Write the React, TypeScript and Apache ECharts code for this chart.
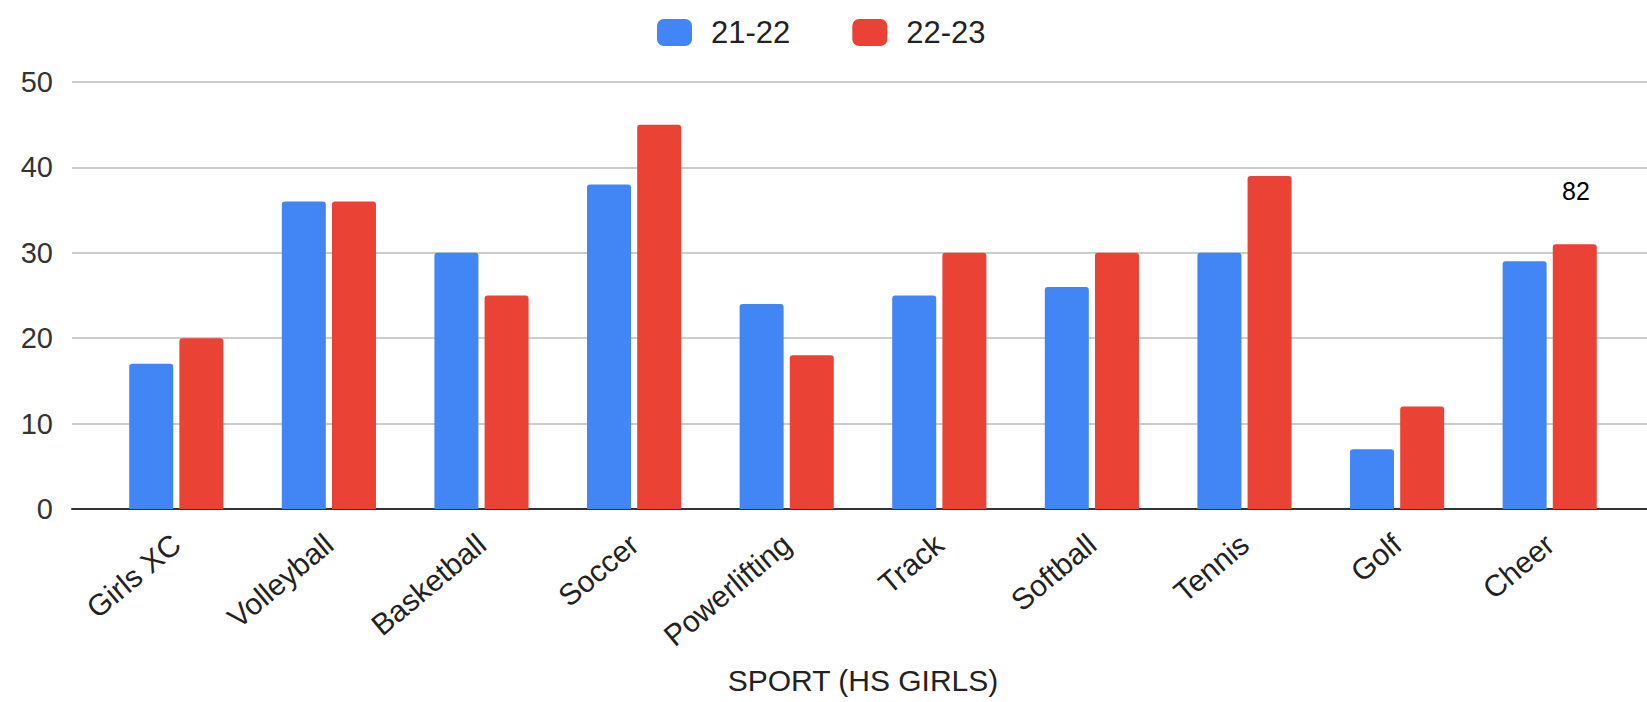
import React, { useEffect, useRef } from "react";
import * as echarts from "echarts";

const categories = ["Girls XC", "Volleyball", "Basketball", "Soccer", "Powerlifting", "Track", "Softball", "Tennis", "Golf", "Cheer"];
const series2122 = [17, 36, 30, 38, 24, 25, 26, 30, 7, 29];
const series2223 = [20, 36, 25, 45, 18, 30, 30, 39, 12, 31];
const seriesNames = ["21-22", "22-23"];
const axisTitle = "SPORT (HS GIRLS)";
const strayNote = "82";

const FONT = "Arial, 'Liberation Sans', sans-serif";

export default function App() {
  const ref = useRef<HTMLDivElement>(null);
  useEffect(() => {
    if (!ref.current) return;
    const chart = echarts.init(ref.current, undefined, { renderer: "svg" });
    chart.setOption({
      animation: false,
      backgroundColor: "#ffffff",
      textStyle: { fontFamily: FONT },
      legend: {
        data: seriesNames,
        left: 652,
        top: 12,
        itemWidth: 35,
        itemHeight: 27,
        itemGap: 62,
        icon: "roundRect",
        textStyle: { fontSize: 31, color: "#222", fontFamily: FONT, padding: [0, 0, 0, 14] },
      },
      grid: [
        { left: 72, right: 0, top: 82, bottom: 193, outerBoundsMode: "none", containLabel: false },
        { left: 100, right: 21, top: 82, bottom: 193, outerBoundsMode: "none", containLabel: false },
      ],
      xAxis: [
        {
          type: "value",
          gridIndex: 0,
          min: 0,
          max: 1,
          axisLine: { show: true, onZero: true, lineStyle: { color: "#333", width: 2 } },
          axisTick: { show: false },
          axisLabel: { show: false },
          splitLine: { show: false },
        },
        {
          type: "category",
          gridIndex: 1,
          data: categories,
          axisLine: { show: false },
          axisTick: { show: false },
          axisLabel: { rotate: 40, fontSize: 30, color: "#222", margin: 31, fontFamily: FONT },
          name: axisTitle,
          nameLocation: "middle",
          nameGap: 156,
          nameTextStyle: { fontSize: 30, color: "#222", fontFamily: FONT },
        },
      ],
      yAxis: [
        {
          type: "value",
          gridIndex: 0,
          min: 0,
          max: 50,
          interval: 10,
          axisLine: { show: false },
          axisTick: { show: false },
          axisLabel: { fontSize: 29, color: "#333", margin: 19, fontFamily: FONT },
          splitLine: { lineStyle: { color: "#cccccc", width: 2 } },
        },
        {
          type: "value",
          gridIndex: 1,
          min: 0,
          max: 50,
          interval: 10,
          show: false,
          splitLine: { show: false },
        },
      ],
      series: [
        {
          name: seriesNames[0],
          type: "bar",
          xAxisIndex: 1,
          yAxisIndex: 1,
          data: series2122,
          barWidth: 44,
          barGap: "14%",
          itemStyle: { color: "#4285F4", borderRadius: [3, 3, 0, 0] },
        },
        {
          name: seriesNames[1],
          type: "bar",
          xAxisIndex: 1,
          yAxisIndex: 1,
          data: series2223,
          barWidth: 44,
          barGap: "14%",
          itemStyle: { color: "#EA4335", borderRadius: [3, 3, 0, 0] },
        },
      ],
      graphic: [
        {
          type: "text",
          x: 1576,
          y: 191,
          style: {
            text: strayNote,
            fontSize: 25,
            fill: "#000",
            fontFamily: FONT,
            align: "center",
            verticalAlign: "middle",
          },
        },
      ],
    });
    return () => chart.dispose();
  }, []);
  return (
    <div
      ref={ref}
      style={{ position: "fixed", left: 0, top: 0, width: 1647, height: 702, background: "#fff" }}
    />
  );
}
